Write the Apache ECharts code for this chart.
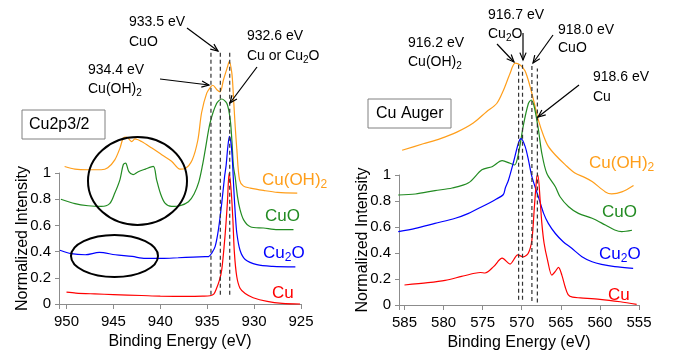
<!DOCTYPE html>
<html>
<head>
<meta charset="utf-8">
<script src="https://cdn.jsdelivr.net/npm/echarts@6/dist/echarts.min.js"></script>
<style>
  html, body { margin: 0; padding: 0; background: #fff; }
  #main { width: 678px; height: 354px; }
</style>
</head>
<body>
<div id="main"></div>
<script>
// Cu2p3/2 spectra, [binding energy (eV), normalized intensity]
const xpsCu = [[950,0.09],[949,0.083],[947,0.077],[945,0.072],[942,0.065],[940,0.06],[937,0.058],[935.5,0.06],[934.7,0.063],[934.3,0.075],[934.0,0.12],[933.7,0.18],[933.45,0.26],[933.1,0.52],[932.85,0.77],[932.66,1.0],[932.45,0.87],[932.26,0.64],[932.1,0.39],[931.85,0.21],[931.5,0.12],[930.95,0.08],[930.1,0.048],[928.6,0.02],[927,0.005],[925.1,0]];
const xpsCu2O = [[950.7,0.41],[949.5,0.384],[948,0.376],[946.5,0.394],[944.8,0.376],[943,0.363],[941.6,0.348],[939.8,0.348],[938.1,0.353],[936.5,0.358],[935.2,0.361],[934.85,0.362],[934.5,0.39],[934.15,0.44],[933.8,0.57],[933.45,0.77],[933.15,0.97],[932.98,1.06],[932.8,1.2],[932.63,1.28],[932.45,1.22],[932.3,1.08],[932.15,0.86],[932.0,0.68],[931.84,0.54],[931.5,0.41],[930.95,0.34],[929.7,0.3],[928,0.287],[925.6,0.283]];
const xpsCuO = [[950.6,0.80],[949.1,0.766],[947.7,0.75],[946.3,0.745],[945.4,0.766],[944.85,0.847],[944.3,0.95],[943.95,1.063],[943.7,1.076],[943.35,1.01],[942.9,0.987],[942.35,1.01],[941.6,1.03],[940.75,1.05],[940.4,0.95],[940.0,0.847],[939.5,0.77],[938.8,0.745],[937.9,0.75],[937.0,0.78],[936.4,0.84],[935.9,0.93],[935.5,1.06],[935.2,1.18],[934.7,1.38],[934.0,1.53],[933.45,1.565],[932.9,1.53],[932.55,1.41],[932.37,1.25],[932.2,1.05],[932.02,0.97],[931.77,0.82],[931.5,0.72],[931.1,0.64],[930.4,0.59],[929,0.58],[927.5,0.567],[925.8,0.567]];
const xpsCuOH2 = [[950.2,1.05],[949.1,1.03],[947.7,1.025],[946.3,1.025],[945.6,1.04],[944.85,1.10],[944.3,1.19],[943.95,1.267],[943.6,1.275],[943.05,1.24],[942.7,1.26],[942.0,1.24],[940.9,1.19],[939.85,1.14],[938.8,1.09],[937.9,1.03],[937.35,1.035],[936.6,1.10],[936.0,1.25],[935.6,1.46],[935.05,1.61],[934.6,1.66],[934.4,1.67],[933.97,1.636],[933.62,1.62],[933.27,1.71],[932.84,1.81],[932.66,1.85],[932.37,1.76],[932.2,1.58],[932.02,1.36],[931.84,1.18],[931.56,0.95],[931.13,0.90],[930.4,0.885],[929,0.867],[927.5,0.852],[925.4,0.847]];

// Cu Auger spectra
const augerCu = [[585,0.154],[582,0.172],[579.8,0.19],[577.7,0.22],[576,0.244],[575.3,0.25],[574.7,0.246],[573.6,0.295],[572.5,0.36],[571.5,0.315],[570.5,0.385],[569.8,0.37],[569.15,0.40],[568.7,0.50],[568.38,0.756],[568.07,0.987],[567.94,1.0],[567.65,0.81],[567.43,0.63],[567.14,0.475],[566.7,0.346],[566.15,0.23],[565.73,0.256],[565.3,0.29],[564.87,0.23],[564.45,0.14],[564.07,0.08],[563.5,0.06],[562.5,0.055],[560,0.044],[557.4,0.025],[555.3,0.005]];
const augerCu2O = [[585.8,0.564],[583.6,0.59],[581.1,0.628],[578.5,0.667],[576.8,0.705],[575.1,0.756],[573.4,0.81],[572.35,0.85],[572.1,0.9],[571.7,0.96],[571.05,1.10],[570.4,1.25],[570.08,1.28],[569.57,1.22],[569.14,1.115],[568.7,0.987],[567.86,0.83],[567.2,0.705],[566.6,0.628],[565.7,0.55],[564.7,0.487],[563.6,0.436],[562.3,0.372],[561.0,0.333],[559.8,0.313],[558.1,0.295],[555.75,0.282]];
const augerCuO = [[585.8,0.846],[583.6,0.854],[581.1,0.88],[578.9,0.90],[576.8,0.94],[575.1,1.04],[573.8,1.064],[572.5,1.11],[571.5,1.09],[570.9,1.077],[570.4,1.17],[569.8,1.38],[569.15,1.55],[568.8,1.577],[568.4,1.525],[567.86,1.346],[567.43,1.167],[566.8,1.013],[565.7,0.91],[565.1,0.833],[564.0,0.756],[562.75,0.705],[561.0,0.667],[559.3,0.615],[558.1,0.577],[557.2,0.564],[555.9,0.575]];
const augerCuOH2 = [[585.3,1.19],[582.6,1.24],[580.4,1.28],[578.3,1.33],[576.2,1.40],[574.5,1.487],[573.2,1.55],[572.35,1.65],[571.5,1.78],[570.85,1.86],[570.2,1.846],[569.57,1.80],[568.93,1.68],[568.3,1.53],[567.86,1.42],[567.2,1.30],[566.6,1.22],[565.7,1.154],[564.45,1.08],[563.2,1.015],[561.9,0.98],[561.0,0.95],[559.3,0.87],[558.5,0.855],[557.2,0.87],[555.7,0.92]];

// dashed reference lines (eV) and their vertical span
const xpsRefLines = [934.6, 933.6, 932.6];
const xpsRefSpan = [0.07, 1.93];
const augerRefLines = [570.4, 569.9, 568.7, 568.0];
const augerRefSpan = [[0.04, 1.86], [0.04, 1.86], [0.03, 1.84], [0.02, 1.82]];

const FONT = '"Liberation Sans", Arial, sans-serif';
const ORANGE = '#FF9E1A', GREEN = '#228B22', BLUE = '#0000FF', RED = '#FF0000';
const AXIS = '#8c8c8c';

function specSeries(data, color, idx) {
  return {
    type: 'line', data: data, xAxisIndex: idx, yAxisIndex: idx,
    showSymbol: false, clip: false, smooth: 0.3, silent: true,
    lineStyle: { color: color, width: 1.2 }
  };
}
function refSeries(x, span, idx) {
  return {
    type: 'line', data: [[x, span[0]], [x, span[1]]], xAxisIndex: idx, yAxisIndex: idx,
    showSymbol: false, clip: false, silent: true, z: 5,
    lineStyle: { color: '#333', width: 1.2, type: [4, 3] }
  };
}

function txt(x, y, str, color, size) {
  const sub = Math.round(size * 0.7);
  return {
    type: 'text', x: x, y: y, z: 50,
    style: {
      text: str, fill: color, fontSize: size, fontFamily: FONT,
      verticalAlign: 'middle', align: 'left',
      rich: {
        n: { fontSize: size, fontFamily: FONT, fill: color, lineHeight: size + 4 },
        s: { fontSize: sub, fontFamily: FONT, fill: color, lineHeight: sub, verticalAlign: 'bottom' }
      }
    }
  };
}
function arrow(x1, y1, x2, y2) {
  const a = Math.atan2(y2 - y1, x2 - x1), L = 8, w = 0.4;
  return [
    { type: 'line', z: 50, shape: { x1: x1, y1: y1, x2: x2, y2: y2 }, style: { stroke: '#000', lineWidth: 1.2 } },
    { type: 'polyline', z: 50, shape: { points: [
        [x2 - L * Math.cos(a - w), y2 - L * Math.sin(a - w)], [x2, y2],
        [x2 - L * Math.cos(a + w), y2 - L * Math.sin(a + w)]] },
      style: { stroke: '#000', fill: null, lineWidth: 1.2 } }
  ];
}
function box(x, y, w, h) {
  return { type: 'rect', z: 40, shape: { x: x, y: y, width: w, height: h },
    style: { fill: '#fff', stroke: '#808080', lineWidth: 1 } };
}
function ring(cx, cy, rx, ry) {
  return { type: 'ellipse', z: 45, shape: { cx: cx, cy: cy, rx: rx, ry: ry },
    style: { fill: null, stroke: '#000', lineWidth: 2 } };
}

function xAxisCfg(idx, min, max) {
  return {
    type: 'value', gridIndex: idx, inverse: true, min: min, max: max, interval: 5,
    name: 'Binding Energy (eV)', nameLocation: 'middle', nameGap: 30,
    nameTextStyle: { fontSize: 16, fontFamily: FONT, color: '#000' },
    axisLine: { lineStyle: { color: AXIS, width: 1 } },
    axisTick: { length: 5, lineStyle: { color: AXIS } },
    axisLabel: { fontSize: 15, fontFamily: FONT, color: '#000', margin: 10,
      formatter: v => (Math.abs(v % 5) < 1e-6 ? String(v) : '') },
    splitLine: { show: false }
  };
}
function yAxisCfg(idx) {
  return {
    type: 'value', gridIndex: idx, min: 0, max: 1, interval: 0.2,
    name: 'Normalized Intensity', nameLocation: 'middle', nameGap: 28, nameMoveOverlap: false,
    nameTextStyle: { fontSize: 16, fontFamily: FONT, color: '#000' },
    axisLine: { show: true, lineStyle: { color: AXIS, width: 1 } },
    axisTick: { show: true, length: 4, lineStyle: { color: AXIS } },
    axisLabel: { fontSize: 15, fontFamily: FONT, color: '#000', margin: 8 },
    splitLine: { show: false }
  };
}

const chart = echarts.init(document.getElementById('main'), null, { renderer: 'canvas' });

const series = [
  specSeries(xpsCuOH2, ORANGE, 0), specSeries(xpsCuO, GREEN, 0),
  specSeries(xpsCu2O, BLUE, 0), specSeries(xpsCu, RED, 0),
  specSeries(augerCuOH2, ORANGE, 1), specSeries(augerCuO, GREEN, 1),
  specSeries(augerCu2O, BLUE, 1), specSeries(augerCu, RED, 1)
];
xpsRefLines.forEach(x => series.push(refSeries(x, xpsRefSpan, 0)));
augerRefLines.forEach((x, i) => series.push(refSeries(x, augerRefSpan[i], 1)));

const graphics = [
  // panel boxes
  box(22, 110, 83, 29), txt(29, 125, 'Cu2p3/2', '#000', 16),
  box(368, 99, 83, 29), txt(376, 114, 'Cu Auger', '#000', 16),
  // circled regions
  ring(137.5, 181, 49.5, 44), ring(114.5, 256, 43.5, 21),
  // left annotations
  txt(129, 22, '933.5 eV', '#000', 14), txt(129, 42, 'CuO', '#000', 14),
  txt(88, 70, '934.4 eV', '#000', 14), txt(88, 89, '{n|Cu(OH)}{s|2}', '#000', 14),
  txt(247, 36, '932.6 eV', '#000', 14), txt(247, 56, '{n|Cu or Cu}{s|2}{n|O}', '#000', 14),
  // right annotations
  txt(488, 15, '916.7 eV', '#000', 14), txt(488, 34, '{n|Cu}{s|2}{n|O}', '#000', 14),
  txt(408, 43, '916.2 eV', '#000', 14), txt(408, 62, '{n|Cu(OH)}{s|2}', '#000', 14),
  txt(558, 30, '918.0 eV', '#000', 14), txt(558, 48, 'CuO', '#000', 14),
  txt(593, 77, '918.6 eV', '#000', 14), txt(593, 97, 'Cu', '#000', 14),
  // series names, left
  txt(262, 180, '{n|Cu(OH)}{s|2}', ORANGE, 17), txt(265, 216, 'CuO', GREEN, 17),
  txt(263, 253, '{n|Cu}{s|2}{n|O}', BLUE, 17), txt(272, 293, 'Cu', RED, 17),
  // series names, right
  txt(589, 163, '{n|Cu(OH)}{s|2}', ORANGE, 17), txt(602, 212, 'CuO', GREEN, 17),
  txt(599, 254, '{n|Cu}{s|2}{n|O}', BLUE, 17), txt(608, 295, 'Cu', RED, 17)
].concat(
  arrow(187, 28, 218, 51), arrow(160, 79, 209, 85), arrow(257, 67, 230, 103),
  arrow(497, 44, 514, 62), arrow(523, 33, 523, 60), arrow(553, 35, 533, 63),
  arrow(579, 85, 538, 117)
);

chart.setOption({
  animation: false,
  backgroundColor: '#fff',
  textStyle: { fontFamily: FONT },
  grid: [
    { left: 59, top: 173, width: 242, height: 131 },
    { left: 399, top: 175, width: 240, height: 130 }
  ],
  xAxis: [xAxisCfg(0, 925, 950.8), xAxisCfg(1, 555, 585.7)],
  yAxis: [yAxisCfg(0), yAxisCfg(1)],
  series: series,
  graphic: { elements: graphics }
});
</script>
</body>
</html>
